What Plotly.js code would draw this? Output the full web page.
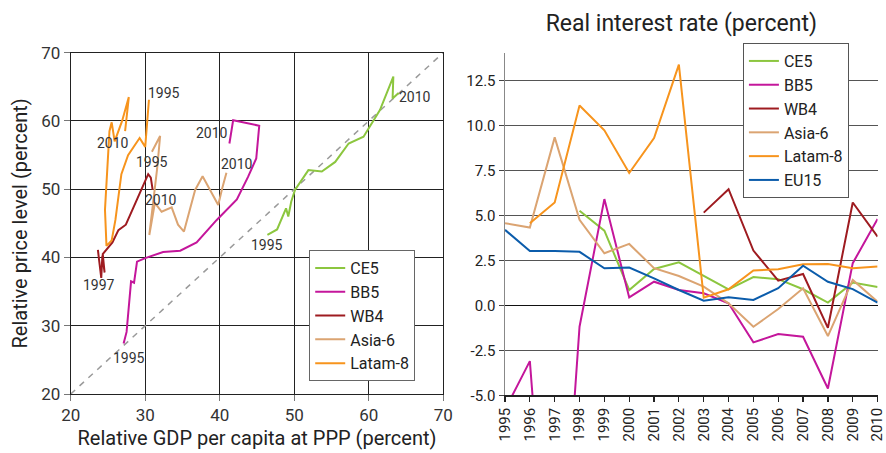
<!DOCTYPE html>
<html>
<head>
<meta charset="utf-8">
<script src="https://cdn.plot.ly/plotly-3.0.1.min.js"></script>
<style>html,body{margin:0;padding:0;background:#fff}#chart{width:886px;height:453px}</style>
</head>
<body>
<div id="chart"></div>
<script>
// ---------- Left panel: relative GDP per capita vs relative price level (1995-2010) ----------
var ce5_gdp   = [46.4, 47.7, 48.9, 49.2, 49.6, 50.1, 51.9, 53.7, 55.5, 57.3, 59.3, 60.4, 61.5, 63.3, 63.2, 64.0];
var ce5_price = [43.3, 44.1, 47.2, 46.0, 48.2, 49.9, 52.8, 52.6, 54.0, 56.7, 57.7, 59.7, 61.6, 66.5, 63.3, 64.1];

var bb5_gdp   = [27.1, 27.5, 28.1, 28.5, 28.9, 30.0, 32.4, 34.7, 36.9, 39.6, 42.3, 43.8, 44.9, 45.3, 41.8, 41.3];
var bb5_price = [27.4, 29.1, 36.5, 36.3, 39.4, 39.9, 40.8, 41.0, 42.2, 45.5, 48.5, 51.8, 54.5, 59.3, 60.1, 56.7];

var wb4_gdp   = [23.65, 24.1, 24.25, 24.55, 24.3, 25.6, 26.4, 27.4, 28.2, 29.0, 29.7, 30.4, 30.75, 31.0];
var wb4_price = [41.1, 37.0, 40.3, 37.8, 40.5, 42.2, 44.0, 44.8, 46.8, 48.6, 50.5, 52.2, 51.7, 49.9];

var asia_gdp   = [30.9, 32.0, 31.6, 30.55, 31.3, 32.2, 33.55, 34.4, 35.2, 36.7, 37.7, 38.8, 39.8, 40.3, 40.6, 40.9];
var asia_price = [55.5, 57.8, 53.0, 43.3, 48.0, 46.7, 47.35, 44.8, 43.8, 49.9, 51.9, 49.8, 47.7, 50.0, 51.2, 52.4];

var latam_gdp   = [30.5, 30.0, 29.25, 27.7, 26.8, 26.4, 26.0, 25.5, 24.8, 24.6, 25.2, 25.5, 25.9, 26.9, 27.8, 27.3];
var latam_price = [63.1, 56.2, 57.5, 55.0, 52.2, 48.5, 45.5, 42.5, 41.7, 47.0, 58.5, 59.8, 57.0, 60.0, 63.5, 58.5];

var diag = [20, 70];

var labelText = ['1995', '2010', '1995', '2010', '1997', '2010', '1995', '2010', '1995', '2010'];
var labelX    = [46.3, 66.2, 27.8, 39.0, 23.8, 32.1, 30.9, 42.3, 32.5, 25.7];
var labelY    = [41.8, 63.5, 25.3, 58.2, 36.0, 48.4, 54.0, 53.7, 64.1, 56.8];

// ---------- Right panel: real interest rate ----------
var years = [1995, 1996, 1997, 1998, 1999, 2000, 2001, 2002, 2003, 2004, 2005, 2006, 2007, 2008, 2009, 2010];
var yearLabels = ['1995','1996','1997','1998','1999','2000','2001','2002','2003','2004','2005','2006','2007','2008','2009','2010'];
var r_ce5   = [null, null, null, 5.25, 4.15, 0.85, 2.02, 2.39, 1.63, 0.89, 1.57, 1.45, 0.89, 0.15, 1.26, 1.02];
var r_bb5   = [-5.8, -3.1, -21, -1.19, 5.9, 0.44, 1.31, 0.85, 0.67, 0.11, -2.06, -1.6, -1.75, -4.62, 2.34, 4.8];
var r_wb4   = [null, null, null, null, null, null, null, null, 5.15, 6.45, 3.04, 1.37, 1.74, -1.25, 5.71, 3.82];
var r_asia  = [4.56, 4.32, 9.33, 4.75, 2.89, 3.41, 2.06, 1.63, 1.04, 0.11, -1.19, -0.21, 0.95, -1.71, 1.41, 0.2];
var r_latam = [null, 4.56, 5.71, 11.1, 9.72, 7.35, 9.29, 13.37, 0.42, 0.89, 1.93, 2.0, 2.28, 2.3, 2.06, 2.15];
var r_eu15  = [4.19, 3.02, 3.02, 2.97, 2.06, 2.1, 1.5, 0.85, 0.26, 0.44, 0.3, 0.95, 2.2, 1.31, 0.9, 0.15];
var rTicks = [-5, -2.5, 0, 2.5, 5, 7.5, 10, 12.5];
var rTickText = ['-5.0', '-2.5', '0.0', '2.5', '5.0', '7.5', '10.0', '12.5'];

var names  = ['CE5', 'BB5', 'WB4', 'Asia-6', 'Latam-8', 'EU15'];
var colors = ['#8cc63f', '#c4169b', '#9e1b20', '#dba472', '#f7941d', '#0b5cab'];

var FONT = 'Roboto, "Liberation Sans", sans-serif';
var LW = 2;

var traces = [];
traces.push({x: diag, y: diag, mode: 'lines', xaxis: 'x', yaxis: 'y', showlegend: false, hoverinfo: 'skip',
  line: {color: '#9a9a9a', width: 1.5, dash: '6px,6px'}});
var lgdp = [ce5_gdp, bb5_gdp, wb4_gdp, asia_gdp, latam_gdp];
var lpr  = [ce5_price, bb5_price, wb4_price, asia_price, latam_price];
for (var i = 0; i < 5; i++) {
  traces.push({x: lgdp[i], y: lpr[i], mode: 'lines', name: names[i], xaxis: 'x', yaxis: 'y',
    legend: 'legend', line: {color: colors[i], width: LW}});
}
var rser = [r_ce5, r_bb5, r_wb4, r_asia, r_latam, r_eu15];
for (var j = 0; j < 6; j++) {
  traces.push({x: years, y: rser[j], mode: 'lines', name: names[j], xaxis: 'x2', yaxis: 'y2',
    legend: 'legend2', connectgaps: false, line: {color: colors[j], width: LW}});
}

var annotations = [];
for (var k = 0; k < labelText.length; k++) {
  annotations.push({x: labelX[k], y: labelY[k], xref: 'x', yref: 'y', text: labelText[k], showarrow: false,
    font: {family: FONT, size: 14, color: '#333'}});
}

var layout = {
  width: 886, height: 453,
  margin: {l: 0, r: 0, t: 0, b: 0},
  paper_bgcolor: '#fff', plot_bgcolor: '#fff',
  font: {family: FONT, size: 15, color: '#222'},
  showlegend: true,
  title: {text: 'Real interest rate (percent)', x: 0.769, xanchor: 'center', y: 0.95, yanchor: 'middle',
    font: {family: FONT, size: 23, color: '#222'}},
  xaxis: {domain: [0.0798, 0.5003], range: [20, 70], dtick: 10, tick0: 20, anchor: 'y',
    showgrid: true, gridcolor: '#222', gridwidth: 1, zeroline: false,
    showline: true, linecolor: '#222', linewidth: 1, mirror: true,
    ticks: 'outside', ticklen: 6, tickcolor: '#777',
    tickfont: {family: FONT, size: 17, color: '#333'},
    title: {text: 'Relative GDP per capita at PPP (percent)', standoff: 6, font: {family: FONT, size: 20, color: '#222'}}},
  yaxis: {domain: [0.1302, 0.8837], range: [20, 70], dtick: 10, tick0: 20, anchor: 'x',
    showgrid: true, gridcolor: '#222', gridwidth: 1, zeroline: false,
    showline: true, linecolor: '#222', linewidth: 1, mirror: true,
    ticks: 'outside', ticklen: 6, tickcolor: '#777',
    tickfont: {family: FONT, size: 17, color: '#333'},
    title: {text: 'Relative price level (percent)', standoff: 8, font: {family: FONT, size: 20, color: '#222'}}},
  xaxis2: {domain: [0.570, 0.9905], range: [1995, 2010], anchor: 'y2',
    tickmode: 'array', tickvals: years, ticktext: yearLabels, tickangle: -90, ticklabeloverflow: 'allow',
    showgrid: false, zeroline: false, showline: true, linecolor: '#222', linewidth: 1.5,
    ticks: 'outside', ticklen: 5, tickcolor: '#222', tickwidth: 1.2,
    tickfont: {family: FONT, size: 15, color: '#222'}},
  yaxis2: {domain: [0.1274, 0.8823], range: [-5, 14], anchor: 'x2',
    tickmode: 'array', tickvals: rTicks, ticktext: rTickText,
    showgrid: true, gridcolor: '#555', gridwidth: 1.2, zeroline: true, zerolinecolor: '#111', zerolinewidth: 1.2,
    showline: true, linecolor: '#888', linewidth: 1.5,
    ticks: 'outside', ticklen: 5, tickcolor: '#444',
    tickfont: {family: FONT, size: 15, color: '#222'}},
  legend: {x: 0.349, y: 0.448, xanchor: 'left', yanchor: 'top', bgcolor: '#fff', bordercolor: '#666', borderwidth: 1,
    font: {family: FONT, size: 16, color: '#222'}, itemwidth: 30, tracegroupgap: 0},
  legend2: {x: 0.8385, y: 0.905, xanchor: 'left', yanchor: 'top', bgcolor: '#fff', bordercolor: '#555', borderwidth: 1,
    font: {family: FONT, size: 16, color: '#222'}, itemwidth: 30, tracegroupgap: 0},
  annotations: annotations
};

Plotly.newPlot('chart', traces, layout, {displayModeBar: false, staticPlot: true});
</script>
</body>
</html>
